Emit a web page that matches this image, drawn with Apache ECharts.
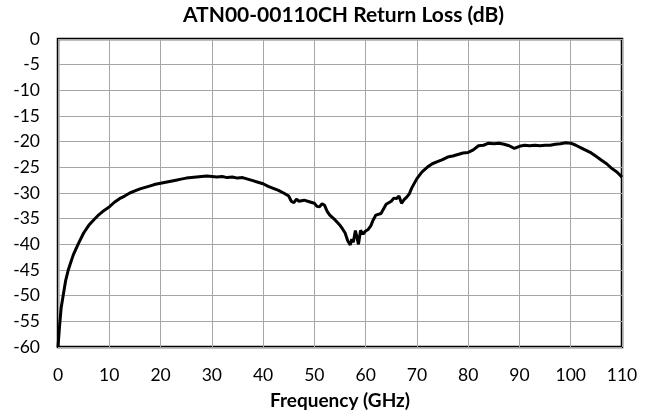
<!DOCTYPE html>
<html>
<head>
<meta charset="utf-8">
<script src="https://cdn.jsdelivr.net/npm/echarts@6/dist/echarts.min.js"></script>
<style>
html,body{margin:0;padding:0;background:#fff;}
#rl{width:655px;height:416px;}
</style>
</head>
<body>
<div id="rl"></div>
<script>
// frequency (GHz)
var freq = [0, 0.3, 0.6, 1, 1.5, 2, 2.5, 3, 4, 5, 6, 7, 8, 9, 10, 11, 12, 13, 14, 15,
	16, 17, 18, 19, 20, 21, 22, 23, 24, 25, 26, 27, 28, 29, 30, 31, 32, 33, 34, 35,
	36, 37, 38, 39, 40, 41, 42, 43, 44, 45, 45.5, 46, 46.5, 47, 48, 49, 50, 50.5, 51, 51.5,
	52, 52.5, 53, 54, 55, 55.5, 56, 56.5, 57, 57.3, 57.6, 58, 58.3, 58.6, 59, 59.5, 60, 60.5, 61, 61.5,
	62, 63, 64, 65, 65.5, 66, 66.5, 67, 67.5, 68, 68.5, 69, 70, 71, 72, 73, 74, 75, 76, 77,
	78, 79, 80, 81, 82, 83, 84, 85, 86, 87, 88, 89, 90, 91, 92, 93, 94, 95, 96, 97,
	98, 99, 100, 101, 102, 103, 104, 105, 106, 107, 108, 109, 110];
// return loss (dB)
var rl = [-60, -56, -52.5, -50, -47, -45, -43.5, -42, -39.8, -37.8, -36.3, -35.2, -34.2, -33.4, -32.7, -31.8, -31.1, -30.6, -30.0, -29.6,
	-29.2, -28.9, -28.6, -28.3, -28.1, -27.9, -27.7, -27.5, -27.3, -27.1, -27.0, -26.9, -26.8, -26.7, -26.8, -26.9, -26.8, -27.0, -26.9, -27.1,
	-27.0, -27.3, -27.6, -27.9, -28.2, -28.7, -29.1, -29.5, -30.0, -30.6, -31.6, -31.9, -31.2, -31.6, -31.4, -31.7, -32.0, -32.6, -32.7, -32.1,
	-32.4, -33.6, -34.3, -35.2, -36.3, -37.0, -37.8, -39.3, -40.1, -39.0, -39.6, -37.3, -38.6, -40.0, -37.3, -38.0, -37.4, -37.1, -36.4, -35.2,
	-34.3, -34.0, -32.2, -31.6, -31.0, -31.1, -30.6, -32.0, -31.3, -30.8, -30.2, -29.0, -27.2, -25.9, -25.0, -24.3, -23.9, -23.5, -23.0, -22.8,
	-22.5, -22.2, -22.1, -21.6, -20.8, -20.7, -20.3, -20.4, -20.3, -20.5, -20.8, -21.3, -20.9, -20.7, -20.8, -20.7, -20.8, -20.7, -20.7, -20.5,
	-20.4, -20.2, -20.3, -20.7, -21.2, -21.7, -22.2, -22.9, -23.6, -24.3, -25.2, -25.9, -26.9];

var main = {
	init: function() {
		var myChart = echarts.init(document.getElementById('rl'));
		var pts = [];
		for (var i = 0; i < freq.length; i++) {
			pts.push([freq[i], rl[i]]);
		}
		var option = {
			animation: false,
			backgroundColor: '#fff',
			title: {
				text: 'ATN00-00110CH Return Loss (dB)',
				left: 178,
				top: 0,
				textStyle: {
					fontFamily: 'Lato',
					fontWeight: 'bold',
					fontSize: 21,
					color: '#000'
				}
			},
			grid: {
				left: 58,
				right: 33,
				top: 39,
				bottom: 69,
				show: true,
				borderColor: '#000',
				borderWidth: 2.5
			},
			xAxis: {
				type: 'value',
				min: 0,
				max: 110,
				interval: 10,
				name: 'Frequency (GHz)',
				nameLocation: 'middle',
				nameGap: 44,
				nameTextStyle: {
					fontFamily: 'Lato',
					fontWeight: 'bold',
					fontSize: 19,
					color: '#000'
				},
				axisLine: {show: false},
				axisTick: {show: false},
				axisLabel: {
					margin: 19,
					fontFamily: 'Lato',
					fontSize: 17.5,
					color: '#000'
				},
				splitLine: {
					show: true,
					lineStyle: {color: '#a6a6a6', width: 1}
				}
			},
			yAxis: {
				type: 'value',
				min: -60,
				max: 0,
				interval: 5,
				axisLine: {show: false},
				axisTick: {show: false},
				axisLabel: {
					margin: 18,
					fontFamily: 'Lato',
					fontSize: 17.5,
					color: '#000'
				},
				splitLine: {
					show: true,
					lineStyle: {color: '#a6a6a6', width: 1}
				}
			},
			series: [{
				type: 'line',
				data: pts,
				showSymbol: false,
				smooth: false,
				lineStyle: {color: '#000', width: 3}
			}]
		};
		myChart.setOption(option);
	}
};

main.init();
</script>
</body>
</html>
